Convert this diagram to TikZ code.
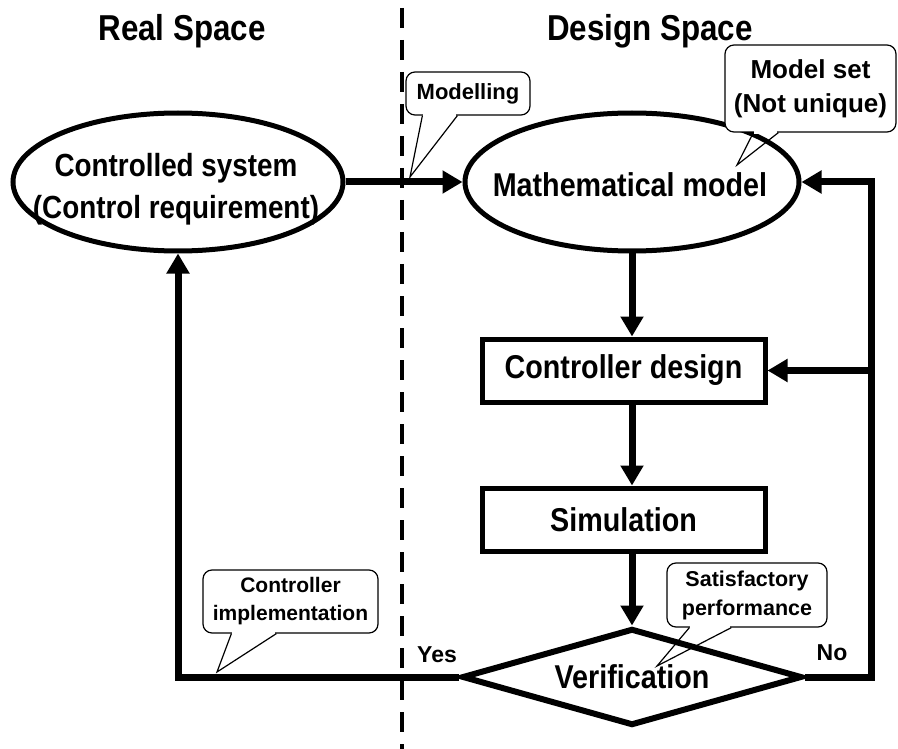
\documentclass[tikz,border=0pt]{standalone}
\usepackage{fontspec}
\setmainfont{Liberation Sans}[FakeStretch=0.87]
\newfontfamily\callfont{Liberation Sans}
\usetikzlibrary{shapes.geometric,arrows.meta,calc}
\newcommand{\ctail}[4]{%
  \fill[white] ($(#1.south west)+(#2+1,-2)$) rectangle ($(#1.south west)+(#3-1,1.5)$);
  \draw[line width=1.2pt,line join=miter] ($(#1.south west)+(#2,0)$) -- (#4) -- ($(#1.south west)+(#3,0)$);}
\begin{document}
\begin{tikzpicture}[x=1pt,y=-1pt,
  arr/.style={line width=7pt,-{Triangle[length=20pt,width=22pt]}},
  ell/.style={ellipse,draw,line width=5pt,inner sep=0pt},
  mtxt/.style={inner sep=0pt,align=center,font=\fontsize{33}{42}\selectfont\bfseries},
  box/.style={rectangle,draw,line width=5pt,inner sep=0pt,minimum width=283pt,minimum height=63pt,font=\fontsize{33}{40}\selectfont\bfseries},
  dia/.style={diamond,draw,line width=6pt,inner sep=0pt,aspect=3.5,minimum width=340pt,minimum height=97pt,font=\fontsize{33}{40}\selectfont\bfseries},
  ttl/.style={font=\fontsize{36}{42}\selectfont\bfseries,inner sep=0pt},
  lab/.style={font=\callfont\fontsize{23}{28}\selectfont\bfseries,inner sep=0pt},
  callbox/.style={draw,line width=1.2pt,rounded corners=9pt,fill=white,inner sep=0pt,align=center}]
\useasboundingbox (0,0) rectangle (898,749);
\fill[white] (0,0) rectangle (898,749);

% divider
\coordinate (dtop) at (402,8);
\coordinate (dbot) at (402,749);
\draw[line width=4pt,dash pattern=on 20pt off 12pt] (dtop) -- (dbot);

% titles
\node[ttl] (rs) at (182,31) {Real Space};
\node[ttl] (ds) at (650,31) {Design Space};

% nodes
\node[ell,minimum width=330pt,minimum height=138pt] (cs) at (178,182) {};
\node[mtxt,font=\fontsize{32}{42}\selectfont\bfseries] (cstxt) at (176,189) {Controlled system\\(Control requirement)};
\node[ell,minimum width=334pt,minimum height=138pt] (mm) at (632,182) {};
\node[mtxt] (mmtxt) at (630,185) {Mathematical model};
\node[box] (cd) at (623.5,370.5) {Controller design};
\node[box] (sim) at (623.5,519.5) {Simulation};
\node[dia] (ver) at (632,677) {Verification};

% connectors
\draw[arr] (cs.east) -- (mm.west);
\draw[arr] (mm.south) -- (mm.south |- cd.north);
\draw[arr] (mm.south |- cd.south) -- (mm.south |- sim.north);
\draw[arr] (mm.south |- sim.south) -- (ver.north);
\draw[arr] (ver.west) -| (cs.south);
\coordinate (nr) at (871,677);
\draw[arr] (ver.east) -- (nr) |- (mm.east);
\draw[arr] (nr |- cd.east) -- (cd.east);

% labels
\node[lab] (yes) at (437,655) {Yes};
\node[lab] (no) at (832,653) {No};

% callouts
\node[callbox,minimum width=124pt,minimum height=43pt,font=\callfont\fontsize{22}{28}\selectfont\bfseries] (mod) at (468,93.5) {Modelling};
\coordinate (modtip) at (410,177);
\ctail{mod}{17}{52}{modtip}

\node[callbox,minimum width=171pt,minimum height=87pt,font=\callfont\fontsize{26}{34}\selectfont\bfseries] (ms) at (810.5,88.5) {Model set\\(Not unique)};
\coordinate (mstip) at (737,165);
\ctail{ms}{29}{54}{mstip}

\node[callbox,minimum width=175pt,minimum height=63pt,font=\callfont\fontsize{21}{28}\selectfont\bfseries] (ci) at (290.5,601.5) {Controller\\implementation};
\coordinate (citip) at (217,672);
\ctail{ci}{29}{74}{citip}

\node[callbox,minimum width=160pt,minimum height=64pt,font=\callfont\fontsize{21.5}{29}\selectfont\bfseries] (sp) at (747,595) {Satisfactory\\performance};
\coordinate (sptip) at (657,666);
\ctail{sp}{23}{65}{sptip}
\end{tikzpicture}
\end{document}
